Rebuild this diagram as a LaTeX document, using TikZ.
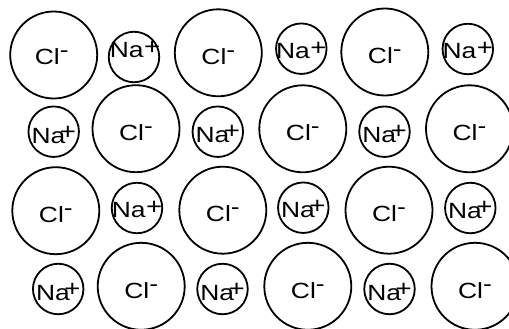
\documentclass[tikz,border=0pt]{standalone}
\usepackage{fontspec}
\setmainfont{Liberation Sans}[FakeStretch=1.2]
\newcommand\clion{Cl\raisebox{7pt}{-}}
\newcommand\naion{Na\kern0.5pt\raisebox{3.5pt}{\fontsize{23}{24}\selectfont+}}
\newcommand\naionk{Na\kern-5.5pt\raisebox{4pt}{\fontsize{23}{24}\selectfont+}}
\tikzset{
  ion/.style={circle, draw, line width=1.8pt, inner sep=0pt},
  cl/.style={ion, minimum size=87pt},
  na/.style={ion, minimum size=50.5pt},
  lbl/.style={anchor=base, inner sep=0pt, font=\fontsize{22}{26}\selectfont},
}
\begin{document}
\begin{tikzpicture}[x=1pt,y=-1pt]
\useasboundingbox (0,0) rectangle (509,329);
\clip (0,0) rectangle (509,329);
% row 1
\node[cl] (c11) at (53.7,55) {};
\node[na] (n11) at (134,57) {};
\node[cl] (c12) at (218.3,52.8) {};
\node[na] (n12) at (301.3,48.7) {};
\node[cl] (c13) at (384.8,52) {};
\node[na] (n13) at (467.8,49) {};
% row 2
\node[na] (n21) at (53.7,131.7) {};
\node[cl] (c21) at (136,128.7) {};
\node[na] (n22) at (217.8,131.7) {};
\node[cl] (c22) at (302.8,128.8) {};
\node[na] (n23) at (384.5,131.7) {};
\node[cl] (c23) at (469.5,128.8) {};
% row 3
\node[cl] (c31) at (55.8,210.7) {};
\node[na] (n31) at (137,208) {};
\node[cl] (c32) at (222.8,210.2) {};
\node[na] (n32) at (303.3,207.7) {};
\node[cl] (c33) at (389,210.2) {};
\node[na] (n33) at (470.3,208) {};
% row 4
\node[na] (n41) at (58.2,289) {};
\node[cl] (c41) at (141.2,286.3) {};
\node[na] (n42) at (222.5,289) {};
\node[cl] (c42) at (307.8,286.3) {};
\node[na] (n43) at (389.5,289) {};
\node[cl] (c43) at (475,286.3) {};
% labels
\node[lbl] (t11) at ([xshift=-2pt,yshift=-10pt]c11.center) {\clion};
\node[lbl] (u11) at ([xshift=1pt,yshift=-1pt]n11.center) {\naion};
\node[lbl] (t12) at ([yshift=-12pt]c12.center) {\clion};
\node[lbl] (u12) at ([yshift=-10pt]n12.center) {\naion};
\node[lbl] (t13) at ([yshift=-12pt]c13.center) {\clion};
\node[lbl] (u13) at ([yshift=-10pt]n13.center) {\naion};
\node[lbl] (u21) at ([yshift=-12pt]n21.center) {\naionk};
\node[lbl] (t21) at ([yshift=-12pt]c21.center) {\clion};
\node[lbl] (u22) at ([yshift=-11pt]n22.center) {\naionk};
\node[lbl] (t22) at ([yshift=-12pt]c22.center) {\clion};
\node[lbl] (u23) at ([yshift=-11pt]n23.center) {\naionk};
\node[lbl] (t23) at ([yshift=-12pt]c23.center) {\clion};
\node[lbl] (t31) at ([yshift=-11.5pt]c31.center) {\clion};
\node[lbl] (u31) at ([yshift=-9.5pt]n31.center) {\naion};
\node[lbl] (t32) at ([yshift=-11.5pt]c32.center) {\clion};
\node[lbl] (u32) at ([yshift=-10pt]n32.center) {\naionk};
\node[lbl] (t33) at ([yshift=-11.5pt]c33.center) {\clion};
\node[lbl] (u33) at ([yshift=-10pt]n33.center) {\naionk};
\node[lbl] (u41) at ([yshift=-11pt]n41.center) {\naionk};
\node[lbl] (t41) at ([yshift=-12pt]c41.center) {\clion};
\node[lbl] (u42) at ([yshift=-11pt]n42.center) {\naionk};
\node[lbl] (t42) at ([yshift=-12pt]c42.center) {\clion};
\node[lbl] (u43) at ([yshift=-11pt]n43.center) {\naionk};
\node[lbl] (t43) at ([yshift=-12pt]c43.center) {\clion};
\end{tikzpicture}
\end{document}
